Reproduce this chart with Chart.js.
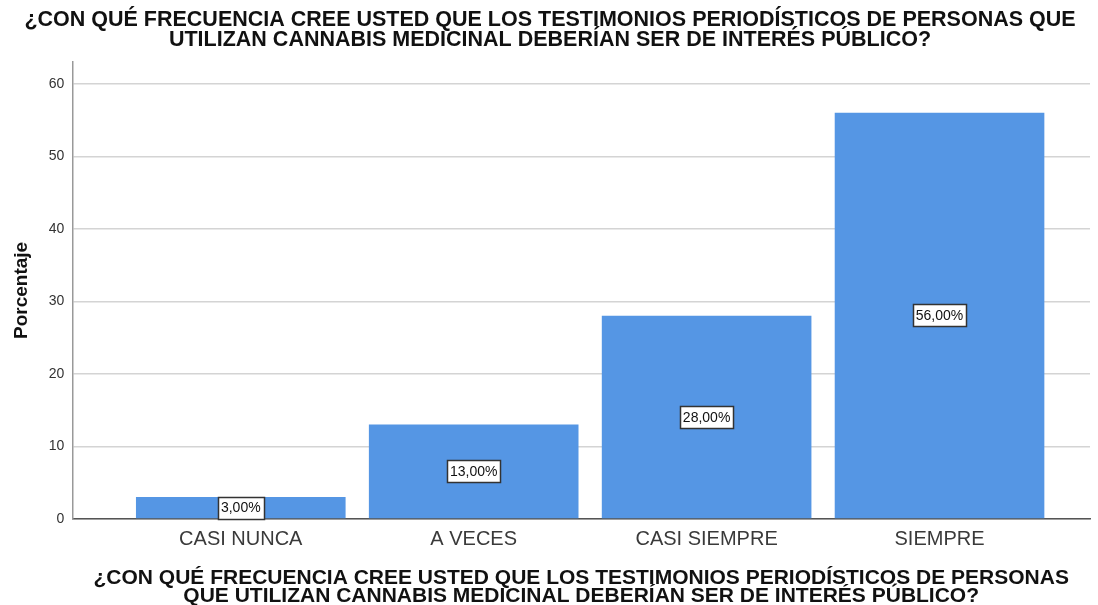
<!DOCTYPE html>
<html>
<head>
<meta charset="utf-8">
<script src="https://cdn.jsdelivr.net/npm/chart.js@4/dist/chart.umd.min.js"></script>
<style>
  html, body { margin: 0; padding: 0; background: #fff; }
  #wrap { width: 1098px; height: 605px; }
</style>
</head>
<body>
<div id="wrap"><canvas id="chart" width="1098" height="605"></canvas></div>
<script>
// datos
const categories = ['CASI NUNCA', 'A VECES', 'CASI SIEMPRE', 'SIEMPRE'];
const percentages = [3, 13, 28, 56];
const yTicks = [0, 10, 20, 30, 40, 50, 60];
const titleLines = [
    '¿CON QUÉ FRECUENCIA CREE USTED QUE LOS TESTIMONIOS PERIODÍSTICOS DE PERSONAS QUE',
    'UTILIZAN CANNABIS MEDICINAL DEBERÍAN SER DE INTERÉS PÚBLICO?'
];
const xTitleLines = [
    '¿CON QUÉ FRECUENCIA CREE USTED QUE LOS TESTIMONIOS PERIODÍSTICOS DE PERSONAS',
    'QUE UTILIZAN CANNABIS MEDICINAL DEBERÍAN SER DE INTERÉS PÚBLICO?'
];

const FONT = '"Liberation Sans", Arial, sans-serif';

// etiquetas con recuadro en el centro de cada barra
const boxLabels = {
    id: 'boxLabels',
    afterDatasetsDraw(chart) {
        const ctx = chart.ctx;
        const meta = chart.getDatasetMeta(0);
        ctx.save();
        ctx.font = '14px ' + FONT;
        ctx.textAlign = 'center';
        ctx.textBaseline = 'middle';
        meta.data.forEach((bar, i) => {
            const text = percentages[i].toFixed(2).replace('.', ',') + '%';
            const cy = (bar.y + bar.base) / 2;
            const w = Math.round(ctx.measureText(text).width + 6);
            const h = 22;
            const x0 = Math.round(bar.x - w / 2) + 0.5;
            const y0 = Math.round(cy - h / 2) + 0.5;
            ctx.fillStyle = '#fff';
            ctx.fillRect(x0, y0, w, h);
            ctx.strokeStyle = '#333';
            ctx.lineWidth = 1.5;
            ctx.strokeRect(x0, y0, w, h);
            ctx.fillStyle = '#111';
            ctx.fillText(text, bar.x, cy + 1);
        });
        ctx.restore();
    }
};

new Chart(document.getElementById('chart'), {
    type: 'bar',
    data: {
        datasets: [{
            data: percentages.map((v, i) => ({ x: i, y: v })),
            backgroundColor: '#5596E4',
            borderWidth: 0,
            barPercentage: 0.9,
            categoryPercentage: 1
        }]
    },
    options: {
        responsive: false,
        animation: false,
        events: [],
        layout: { padding: { top: 10, right: 8, left: 10, bottom: 0 } },
        plugins: {
            legend: { display: false },
            tooltip: { enabled: false },
            title: {
                display: true,
                text: titleLines,
                color: '#111',
                font: { family: FONT, size: 21.5, weight: 'bold', lineHeight: 0.93 },
                padding: { top: 0, bottom: 12 }
            }
        },
        scales: {
            x: {
                type: 'linear',
                min: -0.723,
                max: 3.646,
                offset: false,
                afterBuildTicks: axis => {
                    axis.ticks = categories.map((c, i) => ({ value: i }));
                },
                ticks: {
                    callback: v => categories[v],
                    color: '#3a3a3a',
                    font: { family: FONT, size: 20 },
                    padding: 9,
                    maxRotation: 0
                },
                grid: { display: false, drawTicks: false },
                border: { display: true, color: '#555', width: 1.5 },
                title: {
                    display: true,
                    text: xTitleLines,
                    color: '#111',
                    font: { family: FONT, size: 21, weight: 'bold', lineHeight: 0.86 },
                    padding: { top: 8, bottom: 0 }
                }
            },
            y: {
                min: 0,
                max: 63,
                afterBuildTicks: axis => {
                    axis.ticks = yTicks.map(v => ({ value: v }));
                },
                ticks: {
                    color: '#333',
                    font: { family: FONT, size: 14 },
                    padding: 8
                },
                grid: { color: '#d4d4d4', lineWidth: 1.5, drawTicks: false },
                border: { display: true, color: '#999', width: 1.5 },
                title: {
                    display: true,
                    text: 'Porcentaje',
                    color: '#111',
                    font: { family: FONT, size: 19, weight: 'bold' },
                    padding: { top: 0, bottom: 8 }
                }
            }
        }
    },
    plugins: [boxLabels]
});
</script>
</body>
</html>
